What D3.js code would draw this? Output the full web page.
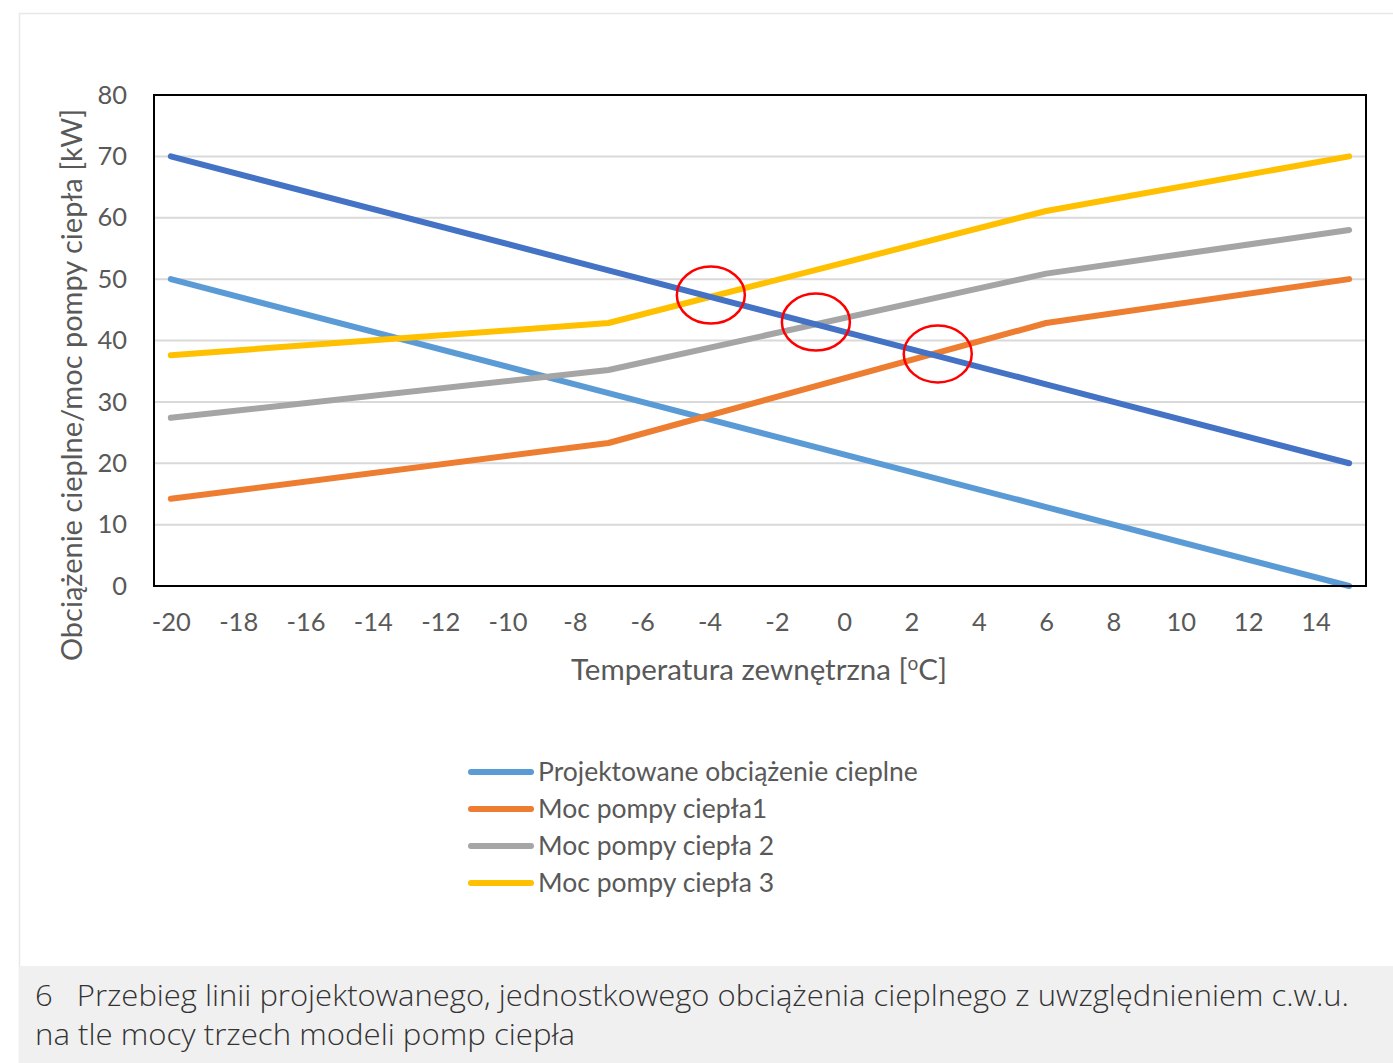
<!DOCTYPE html>
<html><head><meta charset="utf-8">
<script src="https://cdn.jsdelivr.net/npm/d3@7"></script>
<style>
html,body{margin:0;padding:0;background:#fff;}
svg{display:block;}
</style></head>
<body>
<svg id="chart" width="1393" height="1063"></svg>
<script>
// ---- data ----
const temps = [-20, -7, 6, 15];
const loadDesign = [70, 51.43, 32.86, 20];          // dark blue (design load, not in legend)
const loadProject = [50, 31.43, 12.86, 0];          // Projektowane obciążenie cieplne
const pump1 = [14.2, 23.3, 42.85, 50];              // Moc pompy ciepła1
const pump2 = [27.4, 35.2, 50.9, 58];               // Moc pompy ciepła 2
const pump3 = [37.6, 42.85, 61.1, 70];              // Moc pompy ciepła 3
const seriesNames = ["Projektowane obciążenie cieplne", "Moc pompy ciepła1", "Moc pompy ciepła 2", "Moc pompy ciepła 3"];
const xTicks = [-20,-18,-16,-14,-12,-10,-8,-6,-4,-2,0,2,4,6,8,10,12,14];
const yTicks = [0,10,20,30,40,50,60,70,80];
const circleX = [-3.96, -0.84, 2.78];
const circleY = [47.4, 43.0, 37.8];
const xTitle = "Temperatura zewnętrzna [";
const yTitle = "Obciążenie cieplne/moc pompy ciepła [kW]";
const captionLines = ["6   Przebieg linii projektowanego, jednostkowego obciążenia cieplnego z uwzględnieniem c.w.u.", "na tle mocy trzech modeli pomp ciepła"];

const colors = {design:"#4472C4", proj:"#5B9BD5", p1:"#ED7D31", p2:"#A5A5A5", p3:"#FFC000"};
const svg = d3.select("#chart");
const FONT = "Lato, 'Liberation Sans', sans-serif";

// card
svg.append("rect").attr("x",19.5).attr("y",13.5).attr("width",1393).attr("height",1060)
  .attr("fill","#fff").attr("stroke","#e8e8e8").attr("stroke-width",1.5);
svg.append("rect").attr("x",19).attr("y",966).attr("width",1374).attr("height",97).attr("fill","#f0f0f0");

const L=154, R=1366, T=95, B=586;
const x = d3.scaleLinear().domain([-20.5,15.5]).range([L,R]);
const y = d3.scaleLinear().domain([0,80]).range([B,T]);

// grid
svg.append("g").selectAll("line").data(yTicks.filter(d=>d>0&&d<80)).join("line")
  .attr("x1",L).attr("x2",R).attr("y1",d=>y(d)).attr("y2",d=>y(d))
  .attr("stroke","#d9d9d9").attr("stroke-width",2);

// axes
const yAxis = d3.axisLeft(y).tickValues(yTicks).tickSize(0).tickPadding(27);
const gy = svg.append("g").attr("transform",`translate(${L},0)`).call(yAxis);
gy.select(".domain").remove();
gy.selectAll("text").attr("font-family",FONT).attr("font-size",25.5).attr("fill","#595959");

const xAxis = d3.axisBottom(x).tickValues(xTicks).tickSize(0).tickPadding(27).tickFormat(d=>d);
const gx = svg.append("g").attr("transform",`translate(0,${B})`).call(xAxis);
gx.select(".domain").remove();
gx.selectAll("text").attr("font-family",FONT).attr("font-size",25.5).attr("fill","#595959")
  .text(d=>d<0?"-"+Math.abs(d):d);

// series
const line = d3.line().x((d,i)=>x(temps[i])).y(d=>y(d));
const order = [[loadProject,colors.proj],[pump1,colors.p1],[pump2,colors.p2],[pump3,colors.p3],[loadDesign,colors.design]];
svg.append("g").selectAll("path").data(order).join("path")
  .attr("d",d=>line(d[0])).attr("fill","none").attr("stroke",d=>d[1])
  .attr("stroke-width",6).attr("stroke-linecap","round").attr("stroke-linejoin","round");

// frame
svg.append("rect").attr("x",L).attr("y",T).attr("width",R-L).attr("height",B-T)
  .attr("fill","none").attr("stroke","#000").attr("stroke-width",2);

// red circles
svg.append("g").selectAll("ellipse").data(circleX).join("ellipse")
  .attr("cx",d=>x(d)).attr("cy",(d,i)=>y(circleY[i])).attr("rx",34).attr("ry",28.5)
  .attr("fill","none").attr("stroke","#ff0000").attr("stroke-width",2.5);

// axis titles
const xt = svg.append("text").attr("x",759).attr("y",680).attr("text-anchor","middle")
  .attr("font-family",FONT).attr("font-size",29.5).attr("fill","#595959");
xt.append("tspan").text(xTitle);
xt.append("tspan").text("o").attr("font-size",19).attr("dy",-10);
xt.append("tspan").text("C]").attr("dy",10);

svg.append("text").attr("transform","translate(82,385) rotate(-90)").attr("text-anchor","middle")
  .attr("font-family",FONT).attr("font-size",29).attr("fill","#595959").text(yTitle);

// legend
const legCols = [colors.proj,colors.p1,colors.p2,colors.p3];
const lg = svg.append("g").selectAll("g").data(seriesNames).join("g")
  .attr("transform",(d,i)=>`translate(0,${772+i*37})`);
lg.append("line").attr("x1",471).attr("x2",531).attr("stroke",(d,i)=>legCols[i])
  .attr("stroke-width",6).attr("stroke-linecap","round");
lg.append("text").attr("x",538).attr("y",9).attr("font-family",FONT).attr("font-size",26.5)
  .attr("fill","#595959").text(d=>d);

// caption
svg.append("g").selectAll("text").data(captionLines).join("text")
  .attr("x",35).attr("y",(d,i)=>1006+i*39).attr("font-family","'Open Sans', sans-serif").attr("font-weight",300)
  .attr("font-size",30).attr("fill","#333").attr("xml:space","preserve")
  .style("white-space","pre")
  .attr("textLength",(d,i)=>i===0?1314:540).attr("lengthAdjust","spacingAndGlyphs")
  .text(d=>d);
</script>
</body></html>
